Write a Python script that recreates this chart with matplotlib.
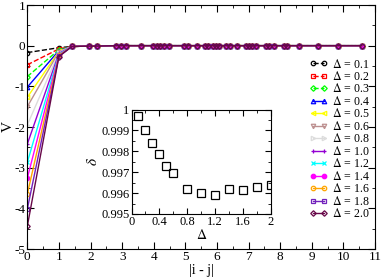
import numpy as np
import matplotlib.pyplot as plt

plt.rcParams['font.family'] = ['Liberation Serif', 'DejaVu Serif']
plt.rcParams['mathtext.fontset'] = 'stix'
plt.rcParams['axes.unicode_minus'] = False

# Delta values and the potential at |i-j| = 0 and 1
deltas = ['0.1', '0.2', '0.3', '0.4', '0.5', '0.6', '0.8', '1.0', '1.2', '1.4', '1.6', '1.8', '2.0']
v_at_0 = [-0.17, -0.47, -0.76, -1.02, -1.27, -1.5, -1.95, -2.42, -2.87, -3.26, -3.65, -4.02, -4.44]
v_at_1 = [-0.05, -0.08, -0.1, -0.12, -0.14, -0.15, -0.17, -0.19, -0.21, -0.23, -0.24, -0.26, -0.27]
# remaining distances, values near zero
dist_far = [1.41, 1.96, 2.19, 2.82, 2.98, 3.13, 3.61, 3.97, 4.10, 4.20, 4.31, 4.47, 4.97, 5.07,
            5.36, 5.63, 5.73, 5.86, 5.97, 6.07, 6.30, 6.41, 6.64, 6.91, 7.01, 7.10, 7.22, 7.54,
            7.64, 7.80, 8.11, 8.22, 8.58, 9.19, 9.84, 10.58]
v_far = [-0.02, -0.01, -0.01] + [0.0] * (len(dist_far) - 3)

colors = ['black', 'red', '#00ff00', 'blue', 'yellow', '#bc8f8f', '#dcdcdc', '#9400d3',
          'cyan', 'magenta', 'orange', '#7221bc', '#670748']
markers = ['o', 's', 'D', '^', '<', 'v', '>', '+', 'x', 'o', 'o', 's', 'D']
styles = ['--', '--', '--'] + ['-'] * 10

# inset data
inset_delta = [0.1, 0.2, 0.3, 0.4, 0.5, 0.6, 0.8, 1.0, 1.2, 1.4, 1.6, 1.8, 2.0]
inset_delta_v = [0.99968, 0.99901, 0.99842, 0.99785, 0.99728, 0.99694, 0.99618,
                 0.99599, 0.99591, 0.99618, 0.99613, 0.99629, 0.99639]

W, H = 382, 278
fig = plt.figure(figsize=(W / 100, H / 100), dpi=100)
ax = fig.add_axes([27.3 / W, 29 / H, 347.7 / W, 244 / H])

for i, d in enumerate(deltas):
    xs = [0, 1] + dist_far
    ys = [v_at_0[i], v_at_1[i]] + v_far
    filled = markers[i] in ('+', 'x') or i == 9
    ax.plot(xs, ys, linestyle=styles[i], color=colors[i], lw=1.0,
            marker=markers[i], ms=3.2 if markers[i] != 'D' else 2.8,
            mfc=colors[i] if filled else 'none', mec=colors[i], mew=0.9,
            label=r'$\Delta$ = ' + d)

ax.set_xlim(0, 11)
ax.set_ylim(-5, 1)
ax.set_xticks(range(0, 12))
ax.set_xticks(np.arange(0, 11.01, 0.5), minor=True)
ax.set_yticks(range(-5, 2))
ax.set_yticks(np.arange(-5, 1.01, 0.5), minor=True)
ax.tick_params(direction='in', which='both', top=True, right=True, labelsize=9.5, pad=1.5)
ax.tick_params(which='major', length=5)
ax.tick_params(which='minor', length=2.5)
ax.set_xlabel('|i - j|', fontsize=10, labelpad=1)
ax.set_ylabel('V', fontsize=11)
ax.yaxis.set_label_coords(-0.036, 0.5)

# legend: rows from y=64 to y=214 px, text from x=332 to x=370 px
fs = 9
spacing = 0.3
top = 0.8
right = 1.0
hl = 1.5
for it in range(4):
    leg = ax.legend(loc='upper right', bbox_to_anchor=(right, top), frameon=False, fontsize=fs,
                    numpoints=2, handlelength=hl, handletextpad=0.35, labelspacing=spacing,
                    borderaxespad=0.0, borderpad=0.0)
    fig.canvas.draw()
    r = fig.canvas.get_renderer()
    ext = [t.get_window_extent(r) for t in leg.get_texts()]
    ys_t = [H - (e.y0 + e.y1) / 2 for e in ext]
    wid = max(e.width for e in ext)
    x1 = max(e.x1 for e in ext)
    fs = fs * 38 / wid
    hl = 19 / (fs * 100 / 72)
    step = (ys_t[-1] - ys_t[0]) / 12
    spacing += (12.5 - step) / (fs * 100 / 72)
    top += (ys_t[0] - 64) / 244
    right += (370 - x1) / 347.7
leg = ax.legend(loc='upper right', bbox_to_anchor=(right, top), frameon=False, fontsize=fs,
                numpoints=2, handlelength=hl, handletextpad=0.35, labelspacing=spacing,
                borderaxespad=0.0, borderpad=0.0)

ins = fig.add_axes([131.5 / W, (H - 214) / H, 139.5 / W, 104.5 / H])
ins.plot(inset_delta, inset_delta_v, linestyle='none', marker='s', ms=5.5,
         mfc='none', mec='black', mew=0.9)
ins.set_xlim(0, 2)
ins.set_ylim(0.995, 1.0)
ins.set_xticks([0, 0.4, 0.8, 1.2, 1.6, 2])
ins.set_xticklabels(['0', '0.4', '0.8', '1.2', '1.6', '2'])
ins.set_xticks(np.arange(0, 2.01, 0.2), minor=True)
ins.set_yticks([0.995, 0.996, 0.997, 0.998, 0.999, 1.0])
ins.set_yticklabels(['0.995', '0.996', '0.997', '0.998', '0.999', '1'])
ins.set_yticks(np.arange(0.995, 1.0001, 0.0005), minor=True)
ins.tick_params(direction='in', which='both', top=True, right=True, labelsize=9, pad=1.5)
ins.tick_params(which='major', length=4)
ins.tick_params(which='minor', length=2)
ins.set_xlabel(r'$\Delta$', fontsize=10, labelpad=0)
ins.set_ylabel(r'$\delta$', fontsize=11, labelpad=1)

fig.savefig('out.png', dpi=100)
